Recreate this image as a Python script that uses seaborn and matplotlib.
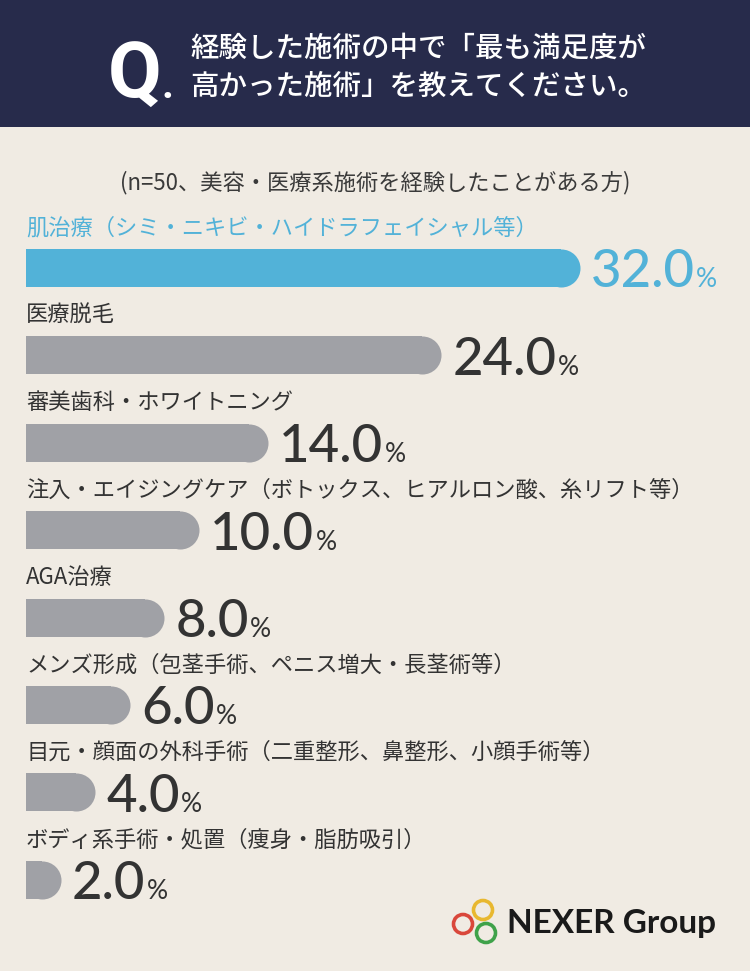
import matplotlib
matplotlib.use("Agg")
import matplotlib.pyplot as plt
import seaborn as sns
from matplotlib.patches import Rectangle, Circle

labels = [
    "肌治療（シミ・ニキビ・ハイドラフェイシャル等）",
    "医療脱毛",
    "審美歯科・ホワイトニング",
    "注入・エイジングケア（ボトックス、ヒアルロン酸、糸リフト等）",
    "AGA治療",
    "メンズ形成（包茎手術、ペニス増大・長茎術等）",
    "目元・顔面の外科手術（二重整形、鼻整形、小顔手術等）",
    "ボディ系手術・処置（痩身・脂肪吸引）",
]
values = [32.0, 24.0, 14.0, 10.0, 8.0, 6.0, 4.0, 2.0]
title_lines = ["経験した施術の中で「最も満足度が", "高かった施術」を教えてください。"]
subtitle = "(n=50、美容・医療系施術を経験したことがある方)"

BG = "#F0EBE3"
NAVY = "#272B4B"
BLUE = "#52B2D8"
GRAY = "#A0A1A6"
DARK = "#333333"

sns.set_theme(style="white")
plt.rcParams["font.family"] = ["Noto Sans CJK JP", "DejaVu Sans"]

W, H = 750, 971
fig = plt.figure(figsize=(W / 100, H / 100), dpi=100, facecolor=BG)


def fx(x):
    return x / W


def fy(y):
    return 1 - y / H


# header band
fig.patches.append(Rectangle((0, fy(127)), 1, 127 / H, transform=fig.transFigure,
                             facecolor=NAVY, edgecolor="none", zorder=0))
fig.text(fx(108), fy(98), "Q", color="white", fontsize=56, fontweight="bold",
         ha="left", va="baseline", family=["Roboto", "DejaVu Sans"])
fig.text(fx(162), fy(98), ".", color="white", fontsize=30, fontweight="bold",
         ha="left", va="baseline", family=["Roboto", "DejaVu Sans"])
fig.text(fx(190), fy(48), title_lines[0], color="white", fontsize=20.5,
         fontweight="medium", ha="left", va="center")
fig.text(fx(190), fy(86), title_lines[1], color="white", fontsize=20.5,
         fontweight="medium", ha="left", va="center")

fig.text(fx(375), fy(183), subtitle, color="#3a3a3a", fontsize=16,
         ha="center", va="center")

# bars
step = 87.4
top = 268 - step / 2
ax = fig.add_axes([fx(26), fy(top + 8 * step), fx(700), 8 * step / H])
ax.set_facecolor("none")
colors = [BLUE] + [GRAY] * (len(values) - 1)
sns.barplot(x=values, y=labels, hue=labels, palette=colors, legend=False,
            orient="h", width=0.435, saturation=1, linewidth=0,
            edgecolor="none", ax=ax)
ax.set_xlim(0, 700 / 17.3)
ax.set_ylim(len(values) - 0.5, -0.5)
ax.axis("off")

fig.canvas.draw()
px_per_unit = ax.transData.transform((1, 0))[0] - ax.transData.transform((0, 0))[0]
bar_px = 0.435 * (ax.transData.transform((0, 0))[1] - ax.transData.transform((0, 1))[1])
r_data = bar_px / 2 / px_per_unit
marker_pt = bar_px * 72 / 100

# rounded right end: shorten the bar and cap it with a circle
for p in ax.patches:
    i = int(round(p.get_y() + p.get_height() / 2))
    v = values[i]
    p.set_width(v - r_data)
    ax.scatter([v - r_data], [i], s=marker_pt ** 2, color=colors[i],
               linewidths=0, zorder=3)

renderer = fig.canvas.get_renderer()
for i, (lab, v) in enumerate(zip(labels, values)):
    c = BLUE if i == 0 else DARK
    ax.text(0, i - 0.46, lab, color=c, fontsize=16, ha="left", va="center")
    num = ax.annotate(f"{v:.1f}", xy=(v, i), xytext=(8, -14), textcoords="offset points",
                      color=c, fontsize=38, fontweight="medium", ha="left", va="baseline",
                      family=["Lato", "DejaVu Sans"])
    bb = num.get_window_extent(renderer)
    ext = (bb.x1 - ax.transData.transform((v, i))[0]) * 72 / 100
    ax.annotate("%", xy=(v, i), xytext=(ext + 1, -14), textcoords="offset points",
                color=c, fontsize=19, ha="left", va="baseline",
                family=["Lato", "DejaVu Sans"])

# logo
lax = fig.add_axes([fx(445), fy(950), fx(60), 60 / H])
lax.set_xlim(445, 505)
lax.set_ylim(950, 890)
lax.set_aspect("equal")
lax.axis("off")
for (cx, cy), col in [((483, 910), "#E8B830"), ((463, 924), "#D9473B"), ((486, 933), "#3FA24A")]:
    lax.add_patch(Circle((cx, cy), 9.5, fill=False, edgecolor=col, linewidth=2.6))
fig.text(fx(507), fy(933), "NEXER Group", color="#1a1a1a", fontsize=24,
         fontweight="bold", ha="left", va="baseline", family=["Lato", "DejaVu Sans"])

fig.savefig("out.png", dpi=100, facecolor=BG)
